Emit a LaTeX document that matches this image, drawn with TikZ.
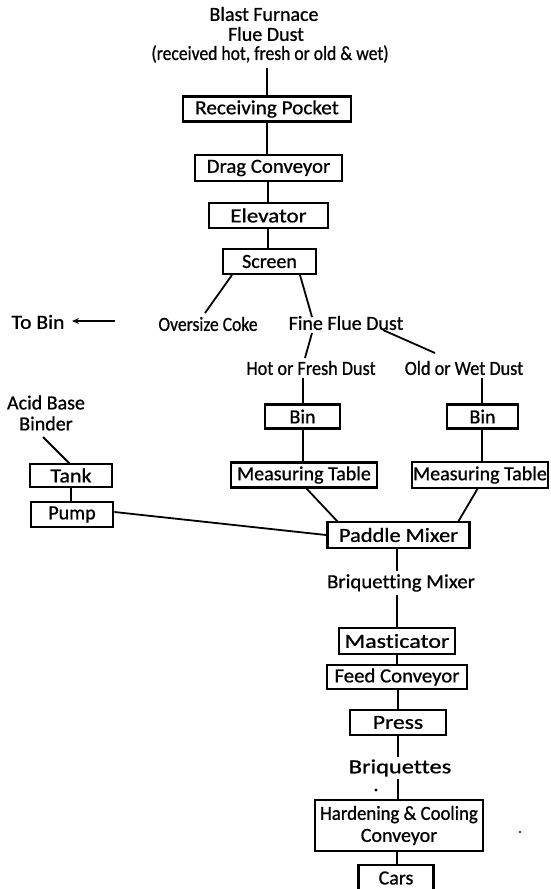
\documentclass[tikz,border=0pt]{standalone}
\usepackage{fontspec}
\usepackage{graphicx}
\usetikzlibrary{arrows.meta}
\setmainfont[Ligatures=NoCommon,FakeBold=0.8]{Carlito}
\newcommand{\sx}[2]{\scalebox{#1}[1]{#2}}
\begin{document}
\begin{tikzpicture}[x=1pt,y=-1pt,
  box/.style={draw,line width=2.8pt,inner sep=0pt,font=\fontsize{20}{22}\selectfont},
  lbl/.style={inner sep=0pt,font=\fontsize{20}{22}\selectfont},
  conn/.style={line width=1.8pt}]
\useasboundingbox (0,0) rectangle (550,889);
% titles
\node[lbl] (t1) at (264,14) {Blast Furnace};
\node[lbl] (t2) at (266,34) {Flue Dust};
\node[lbl] (t3) at (270,54) {\sx{0.88}{(received hot, fresh or old \& wet)}};
\coordinate (t3b) at (267,68);
% main column
\node[box,minimum width=168pt,minimum height=25pt] (rp) at (267,109) {\sx{1.06}{Receiving Pocket}};
\node[box,minimum width=147pt,minimum height=26pt] (dc) at (268.5,168) {\sx{1.04}{Drag Conveyor}};
\node[box,minimum width=119pt,minimum height=25pt] (el) at (268.5,215.5) {\sx{1.15}{Elevator}};
\node[box,minimum width=93pt,minimum height=25pt] (sc) at (269.5,261.5) {Screen};
% screen products
\node[lbl] (oc) at (208,324) {\sx{0.88}{Oversize Coke}};
\node[lbl] (tb) at (38,322) {\sx{1.08}{To Bin}};
\coordinate (arS) at (115,321);
\coordinate (arE) at (72,321);
\node[lbl] (ffd) at (346,323) {Fine Flue Dust};
\node[lbl] (hfd) at (311,368) {\sx{0.91}{Hot or Fresh Dust}};
\node[lbl] (owd) at (464,368) {\sx{0.91}{Old or Wet Dust}};
\coordinate (sc1) at (232,275);
\coordinate (oc1) at (205,313);
\coordinate (sc2) at (300,275);
\coordinate (ff1) at (312,317);
\coordinate (ff2) at (312,333);
\coordinate (hf1) at (305,358);
\coordinate (ff3) at (383,330);
\coordinate (ow1) at (435,353);
\coordinate (hf2) at (303,378);
\coordinate (ow2) at (482,378);
% bins and tables
\node[box,minimum width=75pt,minimum height=24pt] (bin1) at (302.5,416.5) {Bin};
\node[box,minimum width=71pt,minimum height=24pt] (bin2) at (482.5,416.5) {Bin};
\node[box,minimum width=146pt,minimum height=25pt] (mt1) at (304,475) {Measuring Table};
\node[box,minimum width=136pt,minimum height=26pt] (mt2) at (480,475) {Measuring Table};
% binder
\node[lbl,align=center] (ab) at (46,413) {Acid Base\\[-1pt]Binder};
\coordinate (ab1) at (43,437);
\node[box,minimum width=82pt,minimum height=23pt] (tank) at (71,475.5) {\sx{1.1}{Tank}};
\node[box,minimum width=82pt,minimum height=25pt] (pump) at (72,514.5) {Pump};
% mixer and below
\node[box,minimum width=142pt,minimum height=26pt] (pm) at (398.5,535) {\sx{1.12}{Paddle Mixer}};
\node[lbl] (bm) at (401,583) {\sx{1.04}{Briquetting Mixer}};
\node[box,minimum width=116pt,minimum height=26pt] (mast) at (397,641) {\sx{1.2}{Masticator}};
\node[box,minimum width=140pt,minimum height=24pt] (fc) at (397,677) {\sx{1.04}{Feed Conveyor}};
\node[box,minimum width=96pt,minimum height=25pt] (press) at (398,722.5) {\sx{1.18}{Press}};
\node[lbl] (bq) at (400,768) {\sx{1.22}{Briquettes}};
\node[box,minimum width=168pt,minimum height=51pt,align=center] (hc) at (399,825.5) {\sx{0.94}{Hardening \& Cooling}\\[0pt]Conveyor};
\node[box,minimum width=75pt,minimum height=26pt] (cars) at (396,878) {Cars};
% connectors
\draw[conn] (t3b) -- (rp.north);
\draw[conn] (rp.south) -- (rp.south |- dc.north);
\draw[conn] (268,181) -- (268,203);
\draw[conn] (268,228) -- (268,249);
\draw[conn] (sc1) -- (oc1);
\draw[conn] (sc2) -- (ff1);
\draw[conn] (ff2) -- (hf1);
\draw[conn] (ff3) -- (ow1);
\draw[conn] (hf2) -- (hf2 |- bin1.north);
\draw[conn] (ow2) -- (ow2 |- bin2.north);
\draw[conn,-{Stealth[length=7pt,width=6pt]}] (arS) -- (arE);
\draw[conn] (bin1.south -| hf2) -- (hf2 |- mt1.north);
\draw[conn] (bin2.south -| ow2) -- (ow2 |- mt2.north);
\coordinate (mt1b) at (306,488);
\coordinate (pm1) at (338,522);
\coordinate (mt2b) at (478,488);
\coordinate (pm2) at (458,522);
\draw[conn] (mt1b) -- (pm1);
\draw[conn] (mt2b) -- (pm2);
\draw[conn] (ab1) -- (70,464);
\draw[conn] (tank.south -| 71,0) -- (pump.north -| 71,0);
\draw[conn] (pump.east |- 0,512) -- (pm.west |- 0,535);
\draw[conn] (397,548) -- (397,571);
\draw[conn] (397,595) -- (mast.north -| 397,0);
\draw[conn] (mast.south -| 397,0) -- (fc.north -| 397,0);
\draw[conn] (fc.south -| 398,0) -- (press.north -| 398,0);
\draw[conn] (press.south -| 398,0) -- (398,757);
\draw[conn] (398,779) -- (hc.north -| 398,0);
\draw[conn] (hc.south -| 397,0) -- (cars.north -| 397,0);
% specks
\fill (376,790) circle (1.6pt);
\fill (520,832) circle (1.2pt);
\end{tikzpicture}
\end{document}
